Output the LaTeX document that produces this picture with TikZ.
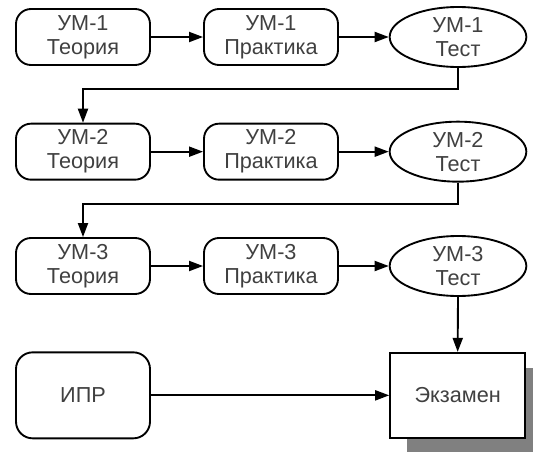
\documentclass[tikz,border=0pt]{standalone}
\usepackage{fontspec}
\setmainfont{Liberation Sans}
\usetikzlibrary{shapes.geometric, arrows.meta, calc}

\begin{document}
\begin{tikzpicture}[
    every node/.style={font=\fontsize{18.5}{20.5}\selectfont, text=black!75, align=center},
    stage/.style={rectangle, rounded corners=0.45cm, draw, line width=1.6pt, minimum width=4.02cm, minimum height=1.68cm},
    test/.style={ellipse, draw, line width=1.6pt, minimum width=4.1cm, minimum height=1.8cm, inner sep=0pt},
    bigbox/.style={rectangle, rounded corners=0.5cm, draw, line width=1.6pt, minimum width=4.02cm, minimum height=2.58cm},
    exam/.style={rectangle, draw, fill=white, line width=1.6pt, minimum width=4.05cm, minimum height=2.55cm},
    arrow/.style={-{Triangle[length=0.42cm, width=0.3cm]}, line width=1.6pt}
]
\useasboundingbox (0,0) rectangle (15.99,-13.56);

% Module 1
\node[stage] (th1) at (2.49, -1.11) {УМ-1\\Теория};
\node[stage] (pr1) at (8.13, -1.11) {УМ-1\\Практика};
\node[test] (ts1) at (13.74, -1.11) {УМ-1\\Тест};

% Module 2
\node[stage] (th2) at (2.49, -4.55) {УМ-2\\Теория};
\node[stage] (pr2) at (8.13, -4.55) {УМ-2\\Практика};
\node[test] (ts2) at (13.74, -4.55) {УМ-2\\Тест};

% Module 3
\node[stage] (th3) at (2.49, -7.98) {УМ-3\\Теория};
\node[stage] (pr3) at (8.13, -7.98) {УМ-3\\Практика};
\node[test] (ts3) at (13.74, -7.98) {УМ-3\\Тест};

% Final
\node[bigbox] (ipr) at (2.49, -11.86) {ИПР};
\fill[black!50] (12.2, -11.05) rectangle (15.99, -13.56);
\node[exam] (ex) at (13.73, -11.86) {Экзамен};

% Connections
\draw[arrow] (th1) -- (pr1);
\draw[arrow] (pr1) -- (ts1);
\draw[arrow] (ts1.south) -- ++(0,-0.64) -| (th2.north);
\draw[arrow] (th2) -- (pr2);
\draw[arrow] (pr2) -- (ts2);
\draw[arrow] (ts2.south) -- ++(0,-0.64) -| (th3.north);
\draw[arrow] (th3) -- (pr3);
\draw[arrow] (pr3) -- (ts3);
\draw[arrow] (ts3.south) -- (ex.north);
\draw[arrow] (ipr) -- (ex);
\end{tikzpicture}
\end{document}
